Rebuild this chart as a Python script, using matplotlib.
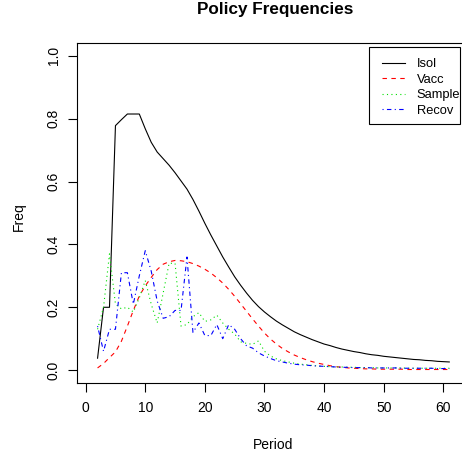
import matplotlib
matplotlib.use("Agg")
import matplotlib.pyplot as plt
from matplotlib.lines import Line2D
from matplotlib.patches import Rectangle

plt.rcParams['font.family'] = ['Liberation Sans', 'DejaVu Sans']

# values, one per period (2..61)
period = list(range(2, 62))
isol = [0.038, 0.200, 0.200, 0.778, 0.797, 0.815, 0.815, 0.815, 0.768, 0.725,
        0.694, 0.673, 0.652, 0.628, 0.602, 0.576, 0.543, 0.506, 0.467, 0.430,
        0.395, 0.360, 0.328, 0.297, 0.270, 0.245, 0.222, 0.202, 0.185, 0.170,
        0.156, 0.144, 0.133, 0.122, 0.113, 0.105, 0.097, 0.090, 0.083, 0.078,
        0.072, 0.067, 0.063, 0.059, 0.056, 0.052, 0.049, 0.047, 0.044, 0.042,
        0.040, 0.038, 0.036, 0.034, 0.033, 0.031, 0.030, 0.028, 0.027, 0.026]
vacc = [0.007, 0.021, 0.040, 0.058, 0.092, 0.140, 0.190, 0.236, 0.268, 0.295,
        0.320, 0.337, 0.345, 0.349, 0.348, 0.345, 0.339, 0.331, 0.321, 0.309,
        0.294, 0.277, 0.257, 0.235, 0.211, 0.187, 0.163, 0.140, 0.118, 0.099,
        0.083, 0.069, 0.058, 0.048, 0.040, 0.033, 0.027, 0.022, 0.018, 0.014,
        0.011, 0.009, 0.007, 0.006, 0.005, 0.004, 0.004, 0.003, 0.003, 0.003,
        0.003, 0.003, 0.002, 0.002, 0.002, 0.002, 0.002, 0.002, 0.002, 0.002]
sample = [0.130, 0.200, 0.370, 0.210, 0.195, 0.200, 0.185, 0.230, 0.285, 0.210,
          0.150, 0.245, 0.340, 0.340, 0.140, 0.145, 0.170, 0.183, 0.155, 0.160,
          0.175, 0.150, 0.130, 0.115, 0.090, 0.085, 0.082, 0.093, 0.060, 0.045,
          0.036, 0.030, 0.026, 0.022, 0.019, 0.017, 0.015, 0.013, 0.012, 0.011,
          0.010, 0.010, 0.009, 0.009, 0.008, 0.008, 0.008, 0.007, 0.007, 0.007,
          0.007, 0.007, 0.006, 0.006, 0.006, 0.006, 0.006, 0.006, 0.006, 0.006]
recov = [0.140, 0.060, 0.130, 0.130, 0.310, 0.310, 0.210, 0.300, 0.380, 0.315,
         0.220, 0.165, 0.170, 0.190, 0.190, 0.360, 0.120, 0.150, 0.110, 0.110,
         0.145, 0.100, 0.145, 0.130, 0.100, 0.077, 0.070, 0.055, 0.045, 0.037,
         0.030, 0.026, 0.022, 0.019, 0.017, 0.016, 0.014, 0.013, 0.012, 0.011,
         0.010, 0.009, 0.009, 0.008, 0.008, 0.008, 0.007, 0.007, 0.007, 0.007,
         0.007, 0.006, 0.006, 0.006, 0.006, 0.006, 0.006, 0.005, 0.005, 0.005]
names = ["Isol", "Vacc", "Sample", "Recov"]
x_ticks = [0, 10, 20, 30, 40, 50, 60]
y_ticks = [0.0, 0.2, 0.4, 0.6, 0.8, 1.0]
y_ticklabels = ["0.0", "0.2", "0.4", "0.6", "0.8", "1.0"]

colors = ["black", "#FF0000", "#00E000", "#0000FF"]
styles = ["-", (0, (4, 4)), (0, (1, 3)), (0, (1, 3, 4, 3))]
LW = 0.8

W, H = 462, 458
fig = plt.figure(figsize=(W / 100, H / 100), dpi=100)


def fx(px):
    return px / W


def fy(py):
    return 1 - py / H


ax = fig.add_axes([fx(77.3), fy(382.7), (463.6 - 77.3) / W, (382.7 - 43.3) / H])

for vals, c, ls in zip([isol, vacc, sample, recov], colors, styles):
    ax.plot(period, vals, color=c, linestyle=ls, lw=LW)

ax.set_xlim(-1.4, 63.4)
ax.set_ylim(-0.04, 1.04)
ax.set_xticks(x_ticks)
ax.set_yticks(y_ticks)
ax.set_yticklabels(y_ticklabels, rotation=90, va='center')
ax.tick_params(axis='both', direction='out', length=6.5, width=LW, labelsize=10)
ax.tick_params(axis='x', pad=7)
ax.tick_params(axis='y', pad=5.5)
for s in ax.spines.values():
    s.set_linewidth(LW)

fig.text(fx(275), fy(14.3), "Policy Frequencies", ha='center', va='baseline',
         fontsize=12.3, fontweight='bold')
fig.text(fx(273.3), fy(449.3), "Period", ha='center', va='baseline', fontsize=10)
fig.text(fx(23.3), fy(217), "Freq", ha='center', va='baseline', fontsize=10,
         rotation=90, rotation_mode='anchor')

# legend drawn R-style
fig.patches.append(Rectangle((fx(369.3), fy(124.3)), (460 - 369.3) / W, (124.3 - 46.7) / H,
                             transform=fig.transFigure, fill=False, ec='black', lw=LW))
for i, (name, c, ls) in enumerate(zip(names, colors, styles)):
    yl = 62.5 + 15.5 * i
    fig.lines.append(Line2D([fx(381.7), fx(405)], [fy(yl), fy(yl)], transform=fig.transFigure,
                            color=c, linestyle=ls, lw=LW))
    fig.text(fx(416.7), fy(yl + 4.8), name, ha='left', va='baseline', fontsize=9.25)

fig.savefig("out.png", dpi=100)
